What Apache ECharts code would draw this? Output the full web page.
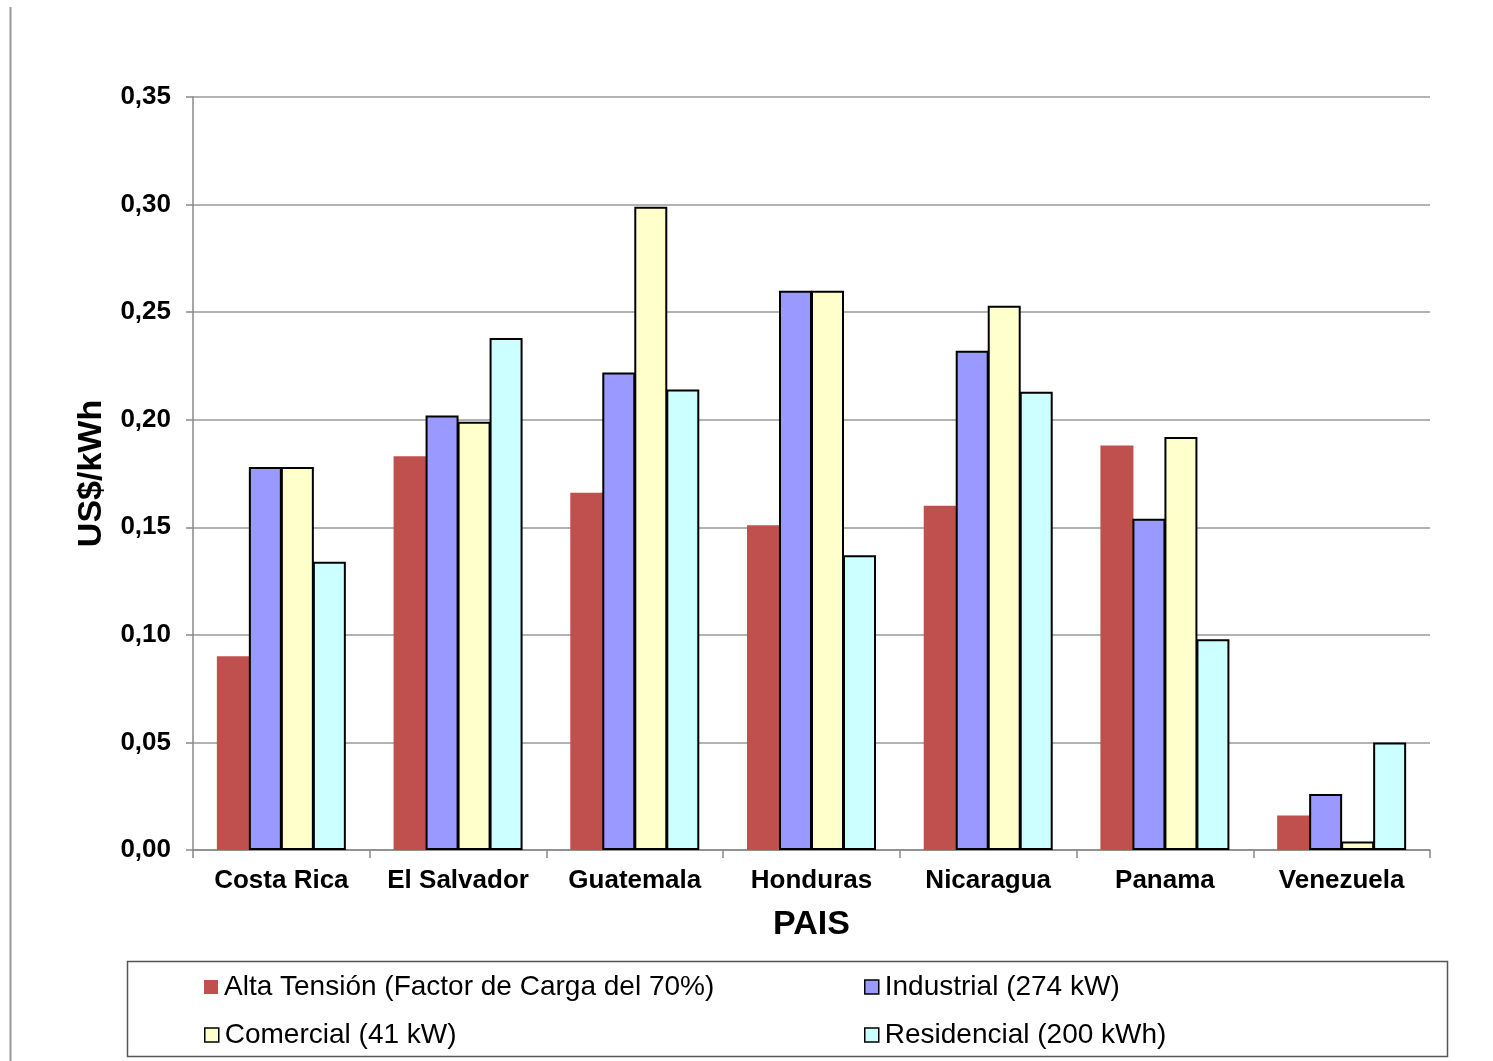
<!DOCTYPE html>
<html>
<head>
<meta charset="utf-8">
<script src="https://cdn.jsdelivr.net/npm/echarts@6/dist/echarts.min.js"></script>
<style>
  html, body { margin: 0; padding: 0; background: #fff; }
  #chart { width: 1493px; height: 1061px; }
</style>
</head>
<body>
<div id="chart"></div>
<script>
// Electricity tariffs by country (US$/kWh)
const paises = ['Costa Rica', 'El Salvador', 'Guatemala', 'Honduras', 'Nicaragua', 'Panama', 'Venezuela'];
const altaTension = [0.090, 0.183, 0.166, 0.151, 0.160, 0.188, 0.016];
const industrial = [0.178, 0.202, 0.222, 0.260, 0.232, 0.154, 0.026];
const comercial = [0.178, 0.199, 0.299, 0.260, 0.253, 0.192, 0.004];
const residencial = [0.134, 0.238, 0.214, 0.137, 0.213, 0.098, 0.050];
const serieNombres = ['Alta Tensión (Factor de Carga del 70%)', 'Industrial (274 kW)', 'Comercial (41 kW)', 'Residencial (200 kWh)'];

const FONT = '"Liberation Sans", Arial, sans-serif';
const colores = ['#C0504D', '#9999FF', '#FFFFCC', '#CCFFFF'];
const valores = [altaTension, industrial, comercial, residencial];

const chart = echarts.init(document.getElementById('chart'), null, { renderer: 'canvas' });

const series = serieNombres.map((nombre, i) => ({
  name: nombre,
  type: 'bar',
  data: valores[i],
  barGap: '-3%',
  barCategoryGap: '27%',
  itemStyle: {
    color: colores[i],
    borderColor: i === 0 ? 'transparent' : '#000',
    borderWidth: i === 0 ? 0 : 2
  }
}));

// one legend per entry to reproduce the two-column layout
const legendPos = [
  { left: 199, top: 968 },
  { left: 859, top: 968 },
  { left: 199, top: 1016 },
  { left: 859, top: 1016 }
];
const legends = serieNombres.map((nombre, i) => ({
  data: [nombre],
  left: legendPos[i].left,
  top: legendPos[i].top,
  itemWidth: 14,
  itemHeight: 14,
  itemGap: 6,
  icon: 'rect',
  selectedMode: false,
  itemStyle: {
    borderColor: i === 0 ? 'transparent' : '#000',
    borderWidth: i === 0 ? 0 : 1.5
  },
  textStyle: { fontFamily: FONT, fontSize: 28, color: '#000', padding: [0, 0, 0, 1] }
}));

chart.setOption({
  animation: false,
  backgroundColor: '#fff',
  grid: { left: 193, right: 63, top: 97, bottom: 211, containLabel: false },
  legend: legends,
  xAxis: {
    type: 'category',
    data: paises,
    name: 'PAIS',
    nameLocation: 'middle',
    nameGap: 58,
    nameTextStyle: { fontFamily: FONT, fontSize: 34, fontWeight: 'bold', color: '#000' },
    axisLine: { lineStyle: { color: '#888', width: 1.5 } },
    axisTick: { show: true, interval: 0, length: 8, lineStyle: { color: '#888', width: 1.5 } },
    axisLabel: {
      interval: 0, hideOverlap: false,
      fontFamily: FONT, fontSize: 26, fontWeight: 'bold', color: '#000', margin: 18
    }
  },
  yAxis: {
    type: 'value',
    min: 0,
    max: 0.35,
    interval: 0.05,
    name: 'US$/kWh',
    nameLocation: 'middle',
    nameGap: 84,
    nameTextStyle: { fontFamily: FONT, fontSize: 34, fontWeight: 'bold', color: '#000' },
    axisLine: { show: true, lineStyle: { color: '#888', width: 1.5 } },
    axisTick: { show: true, length: 7, lineStyle: { color: '#888', width: 1.5 } },
    splitLine: { show: true, lineStyle: { color: '#999', width: 1.5 } },
    axisLabel: {
      fontFamily: FONT, fontSize: 26, fontWeight: 'bold', color: '#000', margin: 22,
      formatter: v => v.toFixed(2).replace('.', ',')
    }
  },
  series: series,
  graphic: [
    {
      type: 'rect',
      shape: { x: 127.5, y: 961.5, width: 1320, height: 95 },
      style: { fill: 'none', stroke: '#555', lineWidth: 1.5 },
      z: -1
    },
    {
      type: 'line',
      shape: { x1: 10.5, y1: 7, x2: 10.5, y2: 1061 },
      style: { stroke: '#999', lineWidth: 2 }
    }
  ]
});
</script>
</body>
</html>
